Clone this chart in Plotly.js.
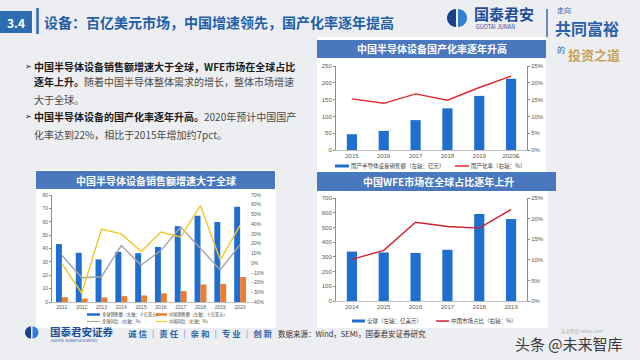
<!DOCTYPE html>
<html>
<head>
<meta charset="utf-8">
<script src="https://cdn.plot.ly/plotly-3.0.1.min.js"></script>
<style>html,body{margin:0;padding:0;background:#eceef2;}#chart{width:640px;height:360px;}</style>
</head>
<body>
<div id="chart"></div>
<script>
// ---------- data ----------
const years1 = ['2011','2012','2013','2014','2015','2016','2017','2018','2019','2020'];
const globalSales = [43.3, 36.8, 31.8, 37.5, 36.5, 41.2, 56.7, 64.5, 59.8, 71.2];
const chinaSales = [3.6, 2.5, 3.4, 4.4, 4.9, 6.5, 8.2, 13.1, 13.5, 18.7];
const globalYoY = [8, -15, -14, 18, -2, 13, 37, 15, -7, 19];
const chinaYoY = [-0.5, -31, 35, 30, 12, 32, 27, 59, 3, 39];

const years2 = ['2015','2016','2017','2018','2019','2020E'];
const domesticSales = [47, 57, 89, 124, 161, 212];
const localizationRate = [15.2, 13.9, 16.7, 14.8, 18.6, 22.0];

const years3 = ['2014','2015','2016','2017','2018','2019'];
const wfeGlobal = [336, 330, 327, 348, 591, 557];
const chinaShare = [10.1, 12.3, 19.1, 18.1, 17.7, 22.2];

// ---------- helpers ----------
const W = 640, H = 360;
const X = p => p / W;
const Y = p => 1 - p / H;
const CJK = '"Noto Sans CJK SC", "Noto Sans", sans-serif';
const BLUE = '#1f6fd1', ORANGE = '#ed7d31', GRAY = '#a5a5a5', YELLOW = '#f0c929', RED = '#e0282e';
const BAR_TITLE = '#4a78bf';

function rect(x0, y0, x1, y1, color, layer) {
  return {type:'rect', xref:'paper', yref:'paper', x0:X(x0), x1:X(x1), y0:Y(y1), y1:Y(y0),
          fillcolor:color, line:{width:0}, layer: layer || 'below'};
}
function seg(x0, y0, x1, y1, color, w) {
  return {type:'line', xref:'paper', yref:'paper', x0:X(x0), x1:X(x1), y0:Y(y0), y1:Y(y1),
          line:{color:color, width:w}, layer:'above'};
}
function halfCircle(cx, cy, r, side, color) {
  const k = 0.5523, s = side === 'left' ? -1 : 1;
  const P = (x, y) => X(x) + ',' + Y(y);
  const path = 'M' + P(cx, cy - r) +
    ' C' + P(cx + s*k*r, cy - r) + ' ' + P(cx + s*r, cy - k*r) + ' ' + P(cx + s*r, cy) +
    ' C' + P(cx + s*r, cy + k*r) + ' ' + P(cx + s*k*r, cy + r) + ' ' + P(cx, cy + r) + ' Z';
  return {type:'path', xref:'paper', yref:'paper', path:path, fillcolor:color, line:{width:0}, layer:'above'};
}
function txt(x, y, text, size, color, opts) {
  return Object.assign({xref:'paper', yref:'paper', x:X(x), y:Y(y), text:text, showarrow:false,
    xanchor:'left', yanchor:'middle', borderpad:0, font:{family:CJK, size:size, color:color}}, opts || {});
}

// ---------- traces ----------
const traces = [
  {type:'bar', x:years1, y:globalSales, xaxis:'x', yaxis:'y', marker:{color:BLUE}, width:0.3, offset:-0.3, hoverinfo:'skip'},
  {type:'bar', x:years1, y:chinaSales, xaxis:'x', yaxis:'y', marker:{color:ORANGE}, width:0.3, offset:0, hoverinfo:'skip'},
  {type:'scatter', mode:'lines', x:years1, y:globalYoY, xaxis:'x', yaxis:'y2', line:{color:GRAY, width:1.4}, hoverinfo:'skip'},
  {type:'scatter', mode:'lines', x:years1, y:chinaYoY, xaxis:'x', yaxis:'y2', line:{color:YELLOW, width:1.4}, hoverinfo:'skip'},

  {type:'bar', x:years2, y:domesticSales, xaxis:'x2', yaxis:'y3', marker:{color:BLUE}, width:0.32, hoverinfo:'skip'},
  {type:'scatter', mode:'lines', x:years2, y:localizationRate, xaxis:'x2', yaxis:'y4', line:{color:RED, width:1.4}, hoverinfo:'skip'},

  {type:'bar', x:years3, y:wfeGlobal, xaxis:'x3', yaxis:'y5', marker:{color:BLUE}, width:0.32, hoverinfo:'skip'},
  {type:'scatter', mode:'lines', x:years3, y:chinaShare, xaxis:'x3', yaxis:'y6', line:{color:'#d0202e', width:1.4}, hoverinfo:'skip'}
];

// ---------- axes ----------
const tickC = '#595959';
function xax(domain, anchor, size) {
  return {domain:domain, anchor:anchor, type:'category', showline:true, linecolor:'#bfbfbf', linewidth:1,
          ticks:'', showgrid:false, zeroline:false, tickfont:{family:'Liberation Sans, Arial, sans-serif', size:size, color:tickC}, fixedrange:true};
}
function yax(domain, anchor, range, dtick, size, extra) {
  const o = Object.assign({anchor:anchor, range:range, dtick:dtick, showline:true, linecolor:'#8c8c8c', linewidth:1,
          ticks:'outside', ticklen:2, tickcolor:'#8c8c8c', showgrid:false, zeroline:false,
          tickfont:{family:'Liberation Sans, Arial, sans-serif', size:size, color:tickC}, fixedrange:true}, extra || {});
  if (domain) o.domain = domain;
  return o;
}

const layout = {
  width:W, height:H, margin:{l:0, r:0, t:0, b:0},
  paper_bgcolor:'#eceef2', plot_bgcolor:'rgba(0,0,0,0)',
  showlegend:false, barmode:'overlay',
  xaxis: xax([X(52), X(250)], 'y', 5),
  yaxis: yax([Y(302), Y(195)], 'x', [0, 80], 10, 5),
  yaxis2: yax(null, 'x', [-40, 70], 10, 5, {overlaying:'y', side:'right', ticksuffix:'%', showline:false, ticks:''}),
  xaxis2: xax([X(336), X(527)], 'y3', 6),
  yaxis3: yax([Y(150), Y(66)], 'x2', [0, 250], 50, 6),
  yaxis4: yax(null, 'x2', [0, 25], 5, 6, {overlaying:'y3', side:'right', ticksuffix:'%'}),
  xaxis3: xax([X(336), X(527)], 'y5', 6),
  yaxis5: yax([Y(301), Y(198)], 'x3', [0, 700], 100, 6),
  yaxis6: yax(null, 'x3', [0, 25], 5, 6, {overlaying:'y5', side:'right', ticksuffix:'%'}),
  shapes: [], annotations: []
};

const S = layout.shapes, A = layout.annotations;

// background panels and title bars
S.push(rect(317, 37, 546, 172, '#ffffff'));
S.push(rect(36, 170, 276, 328, '#ffffff'));
S.push(rect(317, 172, 548, 328, '#ffffff'));
S.push(rect(317, 40, 546, 58, BAR_TITLE));
S.push(rect(36, 171, 275, 189, BAR_TITLE));
S.push(rect(317, 172, 556, 191, BAR_TITLE));

// header
S.push(rect(0, 11, 32, 33, '#2b6cb3', 'above'));
S.push(seg(37.5, 8, 37.5, 34, '#2b6cb3', 2.5));
A.push(txt(16, 22, '<b>3.4</b>', 12, '#ffffff', {xanchor:'center'}));
A.push(txt(43, 22, '<b>设备：百亿美元市场，中国增速领先，国产化率逐年提高</b>', 14, '#1f5fa8'));

// top logo
S.push(halfCircle(456, 18, 9, 'left', '#1b3f8f'));
S.push(halfCircle(458, 18, 9, 'right', '#2f80d3'));
A.push(txt(473, 14, '<b>国泰君安</b>', 15, '#1d4f9c'));
A.push(txt(475, 27.5, 'GUOTAI JUNAN', 5.5, '#1d4f9c'));
S.push(seg(547, 9, 547, 37, '#3a6db5', 1.5));
A.push(txt(556, 10, '走向', 7, '#2b5fa8'));
A.push(txt(554, 28, '<b>共同富裕</b>', 16, '#2b5fa8'));
A.push(txt(556, 50, '的', 8, '#2b5fa8'));
A.push(txt(567, 54, '<b>投资之道</b>', 13, '#c9a35a'));

// chart titles
A.push(txt(431.5, 49, '<b>中国半导体设备国产化率逐年升高</b>', 10, '#ffffff', {xanchor:'center'}));
A.push(txt(155.5, 180, '<b>中国半导体设备销售额增速大于全球</b>', 10, '#ffffff', {xanchor:'center'}));
A.push(txt(438, 181.5, '<b>中国WFE市场在全球占比逐年上升</b>', 10, '#ffffff', {xanchor:'center'}));

// text block
const dark = '#1a1a1a', mid = '#4a4a4a';
A.push(txt(24, 66, '➢', 8, dark, {font:{family:'DejaVu Sans', size:8, color:dark}}));
A.push(txt(33, 66, '<b>中国半导体设备销售额增速大于全球，WFE市场在全球占比</b>', 10, dark));
A.push(txt(33, 82, '<b>逐年上升。</b><span style="color:' + mid + '">随着中国半导体整体需求的增长，整体市场增速</span>', 10, dark));
A.push(txt(33, 99, '大于全球。', 10, mid));
A.push(txt(24, 117, '➢', 8, dark, {font:{family:'DejaVu Sans', size:8, color:dark}}));
A.push(txt(33, 117, '<b>中国半导体设备的国产化率逐年升高。</b><span style="color:' + mid + '">2020年预计中国国产</span>', 10, dark));
A.push(txt(33, 134, '化率达到22%，相比于2015年增加约7pct。', 10, mid));

// legends: top-right
S.push(seg(335, 166, 349, 166, BLUE, 3));
A.push(txt(350, 166, '国产半导体设备销售额（左轴：亿元）', 5.5, '#404040'));
S.push(seg(455, 166, 469, 166, RED, 1.5));
A.push(txt(470, 166, '国产化率（右轴：%）', 5.5, '#404040'));

// legends: left
S.push(seg(87, 314.5, 100, 314.5, BLUE, 2.5));
A.push(txt(101, 314.5, '全球销售额（左轴：十亿美元）', 4.2, '#404040'));
S.push(seg(156, 314.5, 167, 314.5, ORANGE, 2.5));
A.push(txt(168, 314.5, '中国销售额（左轴：十亿美元）', 4.2, '#404040'));
S.push(seg(87, 321.5, 100, 321.5, GRAY, 1.2));
A.push(txt(101, 321.5, '全球同比（右轴：%）', 4.2, '#404040'));
S.push(seg(156, 321.5, 167, 321.5, YELLOW, 1.2));
A.push(txt(168, 321.5, '中国同比（右轴：%）', 4.2, '#404040'));

// legends: bottom-right
S.push(seg(352, 321, 365, 321, BLUE, 3));
A.push(txt(366, 321, '全球（左轴：亿美元）', 5.5, '#404040'));
S.push(seg(436, 321, 449, 321, '#d0202e', 1.5));
A.push(txt(450, 321, '中国市场占比（右轴：%）', 5.5, '#404040'));

// footer
S.push(halfCircle(31, 332.5, 6, 'left', '#1b3f8f'));
S.push(halfCircle(32.5, 332.5, 6, 'right', '#2f80d3'));
A.push(txt(49, 331.5, '<b>国泰君安证券</b>', 10.5, '#1d4f9c'));
A.push(txt(50, 340, 'GUOTAI JUNAN SECURITIES', 3.6, '#1d4f9c'));
A.push(txt(127, 333, '<b>诚 信 ｜ 责 任 ｜ 亲 和 ｜ 专 业 ｜ 创 新</b>', 8.5, '#2a64b0'));
A.push(txt(277, 333, '数据来源：Wind，SEMI，国泰君安证券研究', 7.5, '#333333'));
A.push(txt(560, 331, '未来智库 vzkoo.com', 4.5, '#b0b0b0'));
A.push(txt(514, 343, '头条 @未来智库', 15, '#3a3a3a'));

Plotly.newPlot('chart', traces, layout, {staticPlot:true, displayModeBar:false});
</script>
</body>
</html>
